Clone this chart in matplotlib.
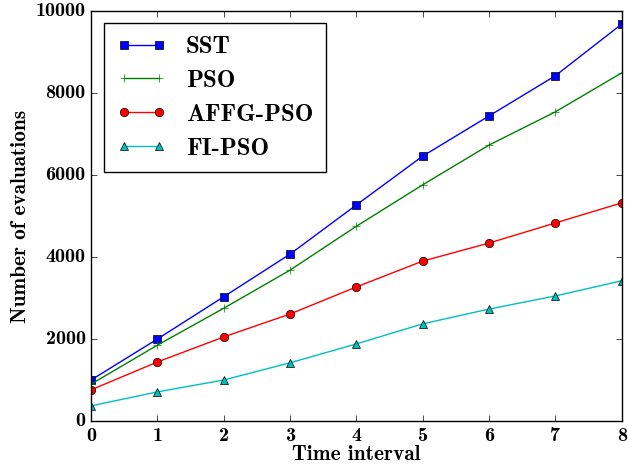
import numpy as np
import matplotlib
matplotlib.use("Agg")
import matplotlib.pyplot as plt

# data
x = np.arange(0, 9)
sst = [1000, 2000, 3030, 4070, 5270, 6460, 7440, 8420, 9680]
pso = [900, 1850, 2750, 3680, 4750, 5760, 6730, 7540, 8490]
affg = [760, 1440, 2050, 2610, 3270, 3900, 4340, 4830, 5320]
fi = [370, 710, 1000, 1420, 1880, 2370, 2730, 3050, 3420]
labels = ["SST", "PSO", "AFFG-PSO", "FI-PSO"]

plt.style.use("classic")
plt.rcParams['font.family'] = ['cmb10', 'DejaVu Serif']
plt.rcParams['axes.unicode_minus'] = False

fig = plt.figure(figsize=(6.28, 4.76), dpi=100)
ax = fig.add_axes([0.145, 0.1155, 0.845, 0.8615])

ax.plot(x, sst, color='b', marker='s', markersize=6, linewidth=1, label=labels[0])
ax.plot(x, pso, color='g', marker='+', markersize=6, linewidth=1, label=labels[1])
ax.plot(x, affg, color='r', marker='o', markersize=6, linewidth=1, label=labels[2])
ax.plot(x, fi, color='c', marker='^', markersize=6, linewidth=1, label=labels[3])

ax.set_xlim(0, 8)
ax.set_ylim(0, 10000)
ax.set_xticks(range(0, 9))
ax.set_yticks(range(0, 10001, 2000))
ax.tick_params(labelsize=14.5)
ax.set_xlabel("Time interval", fontsize=15.3, labelpad=0)
ax.set_ylabel("Number of evaluations", fontsize=15.3, labelpad=4)

leg = ax.legend(loc='upper left', fontsize=18, numpoints=2, borderpad=0.5,
                labelspacing=0.45, handlelength=2.0, handletextpad=0.8,
                borderaxespad=0.5)
leg.get_frame().set_linewidth(1)

fig.savefig("out.png", dpi=100)
